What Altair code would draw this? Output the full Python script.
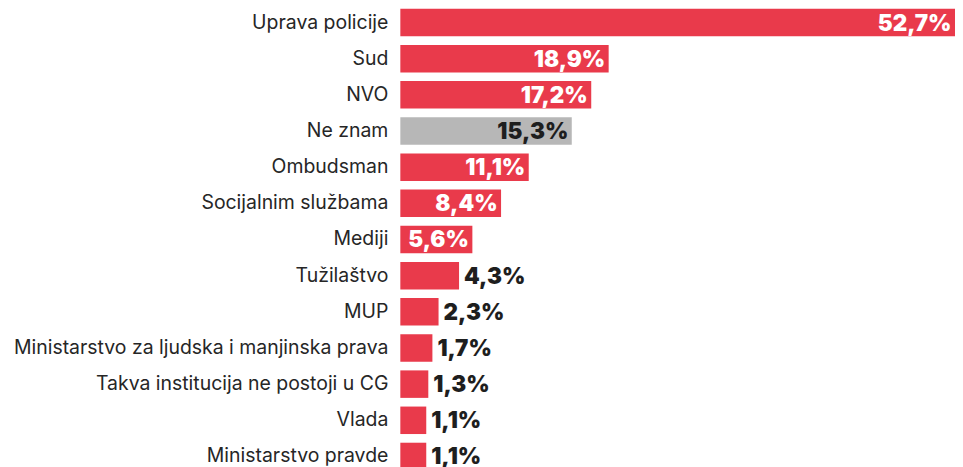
import altair as alt
import pandas as pd

categories = [
    "Uprava policije", "Sud", "NVO", "Ne znam", "Ombudsman",
    "Socijalnim službama", "Mediji", "Tužilaštvo", "MUP",
    "Ministarstvo za ljudska i manjinska prava",
    "Takva institucija ne postoji u CG", "Vlada", "Ministarstvo pravde",
]
values = [52.7, 18.9, 17.2, 15.3, 11.1, 8.4, 5.6, 4.3, 2.3, 1.7, 1.3, 1.1, 1.1]
groups = ["institucija", "institucija", "institucija", "ne znam", "institucija",
          "institucija", "institucija", "institucija", "institucija",
          "institucija", "institucija", "institucija", "institucija"]

df = pd.DataFrame({"category": categories, "value": values, "group": groups})
df["label"] = [f"{v:.1f}".replace(".", ",") + "%" for v in values]
df["inside"] = df["value"] >= 5
df["tcolor"] = [
    "#ffffff" if (ins and g == "institucija") else "#1e1e1e"
    for ins, g in zip(df["inside"], df["group"])
]

X_MIN = -1.43
X_MAX = 52.7
RED = "#e93a4b"
GREY = "#b7b7b7"

y_enc = alt.Y(
    "category:N",
    sort=categories,
    scale=alt.Scale(paddingInner=0.24, paddingOuter=0),
    axis=alt.Axis(
        title=None, ticks=False, domain=False, labelPadding=12.5,
        labelFontSize=19.5, labelFont="Inter", labelColor="#262626",
        labelFontWeight=400, labelLimit=0,
    ),
)
x_scale = alt.Scale(domain=[X_MIN, X_MAX], nice=False, zero=False)

base = alt.Chart(df)

bars = base.mark_bar(cornerRadius=0).encode(
    y=y_enc,
    x=alt.X("value:Q", scale=x_scale, axis=None),
    x2=alt.datum(X_MIN),
    color=alt.Color(
        "group:N",
        scale=alt.Scale(domain=["institucija", "ne znam"], range=[RED, GREY]),
        legend=None,
    ),
)

inside = base.transform_filter("datum.inside").mark_text(
    align="right", baseline="middle", dx=-3.5, dy=1,
    font="Inter", fontSize=22.5, fontWeight=900,
).encode(
    y=alt.Y("category:N", sort=categories),
    x=alt.X("value:Q", scale=x_scale),
    text="label:N",
    color=alt.Color("tcolor:N", scale=None),
)

outside = base.transform_filter("!datum.inside").mark_text(
    align="left", baseline="middle", dx=5, dy=1,
    font="Inter", fontSize=22.5, fontWeight=900,
).encode(
    y=alt.Y("category:N", sort=categories),
    x=alt.X("value:Q", scale=x_scale),
    text="label:N",
    color=alt.Color("tcolor:N", scale=None),
)

chart = alt.layer(bars, inside, outside).properties(
    width=556.6,
    height=463,
    autosize=alt.AutoSizeParams(type="none"),
    padding={"left": 393.7, "top": 0, "right": 0, "bottom": 0},
).configure_view(stroke=None)

chart.save("out.html", embed_options={"renderer": "svg", "actions": False})
